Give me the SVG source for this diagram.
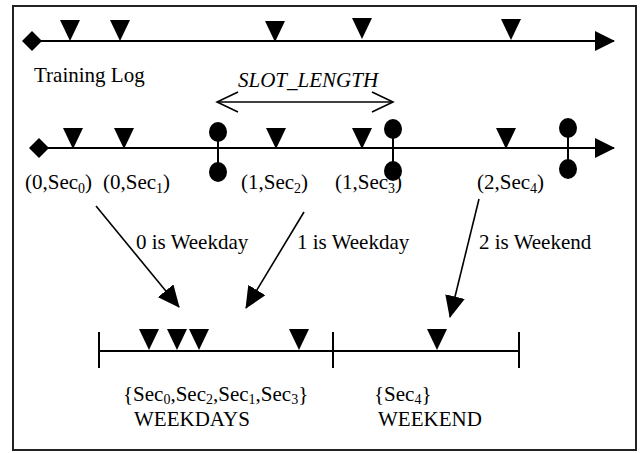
<svg xmlns="http://www.w3.org/2000/svg" width="644" height="453" viewBox="0 0 644 453">
<defs>
<style>
text{font-family:"Liberation Serif","Times New Roman",serif;font-size:21px;fill:#000}
.sub{font-size:14px}
.ln{stroke:#000;stroke-width:2;fill:none}
.cn{stroke:#000;stroke-width:1.6;fill:none}
.dot{fill:#000}
</style>
<marker id="ah" viewBox="0 0 22 20" refX="21" refY="10" markerWidth="22" markerHeight="20" orient="auto" markerUnits="userSpaceOnUse">
<path d="M0,0 L22,10 L0,20 z" fill="#000"/>
</marker>
<marker id="ta" viewBox="0 0 20 20" refX="19" refY="10" markerWidth="20" markerHeight="20" orient="auto" markerUnits="userSpaceOnUse">
<path d="M0,0 L20,10 L0,20 z" fill="#000"/>
</marker>
<path id="tr" d="M-10,0 L10,0 L0,21 z"/>
</defs>
<rect x="13" y="6" width="623" height="444" fill="#fff" stroke="#222" stroke-width="2"/>

<g id="training-log">
<line class="ln" x1="32" y1="41" x2="614" y2="41" marker-end="url(#ta)"/>
<path d="M32,31 L42,41 L32,51 L22,41 z" fill="#000"/>
<use href="#tr" x="70" y="20"/>
<use href="#tr" x="120" y="20"/>
<use href="#tr" x="275" y="21"/>
<use href="#tr" x="362" y="18"/>
<use href="#tr" x="511" y="19"/>
<text x="34" y="82">Training Log</text>
</g>

<g id="slot-length">
<text x="238" y="87" font-style="italic">SLOT_LENGTH</text>
<line class="cn" x1="217" y1="102" x2="393" y2="102"/>
<polyline class="cn" points="238,92 217,102 238,112"/>
<polyline class="cn" points="372,92 393,102 372,112"/>
</g>

<g id="slotted-log">
<line class="ln" x1="39" y1="148" x2="614" y2="148" marker-end="url(#ta)"/>
<path d="M39,138 L49,148 L39,158 L29,148 z" fill="#000"/>
<use href="#tr" x="73" y="128"/>
<use href="#tr" x="124" y="128"/>
<use href="#tr" x="276" y="128"/>
<use href="#tr" x="362" y="128"/>
<use href="#tr" x="506" y="128"/>
<line class="ln" x1="218" y1="132" x2="218" y2="172"/>
<ellipse class="dot" cx="218" cy="132" rx="9" ry="10"/>
<ellipse class="dot" cx="218" cy="172" rx="9" ry="10"/>
<line class="ln" x1="393" y1="129" x2="393" y2="171"/>
<ellipse class="dot" cx="393" cy="129" rx="9" ry="10"/>
<ellipse class="dot" cx="393" cy="171" rx="9" ry="10"/>
<line class="ln" x1="568" y1="128" x2="568" y2="169"/>
<ellipse class="dot" cx="568" cy="128" rx="9" ry="10"/>
<ellipse class="dot" cx="568" cy="169" rx="9" ry="10"/>
</g>

<g id="slot-labels">
<text x="25" y="189">(0,Sec<tspan class="sub" dy="4">0</tspan><tspan dy="-4">)</tspan></text>
<text x="103" y="189">(0,Sec<tspan class="sub" dy="4">1</tspan><tspan dy="-4">)</tspan></text>
<text x="241" y="189">(1,Sec<tspan class="sub" dy="4">2</tspan><tspan dy="-4">)</tspan></text>
<text x="335" y="189">(1,Sec<tspan class="sub" dy="4">3</tspan><tspan dy="-4">)</tspan></text>
<text x="477" y="189">(2,Sec<tspan class="sub" dy="4">4</tspan><tspan dy="-4">)</tspan></text>
</g>

<g id="connectors">
<line class="cn" x1="96" y1="206" x2="179" y2="307" marker-end="url(#ah)"/>
<line class="cn" x1="304" y1="212" x2="246" y2="308" marker-end="url(#ah)"/>
<line class="cn" x1="479" y1="199" x2="450" y2="317" marker-end="url(#ah)"/>
</g>

<g id="connector-labels">
<text x="136" y="249">0 is Weekday</text>
<text x="297" y="249">1 is Weekday</text>
<text x="479" y="249">2 is Weekend</text>
</g>

<g id="weekdays">
<line class="ln" x1="99" y1="351" x2="333" y2="351"/>
<line class="ln" x1="99" y1="332" x2="99" y2="368"/>
<use href="#tr" x="149" y="329"/>
<use href="#tr" x="177" y="329"/>
<use href="#tr" x="199" y="329"/>
<use href="#tr" x="299" y="329"/>
<text x="123" y="401">{Sec<tspan class="sub" dy="3">0</tspan><tspan dy="-3">,Sec</tspan><tspan class="sub" dy="3">2</tspan><tspan dy="-3">,Sec</tspan><tspan class="sub" dy="3">1</tspan><tspan dy="-3">,Sec</tspan><tspan class="sub" dy="3">3</tspan><tspan dy="-3">}</tspan></text>
<text x="134" y="426">WEEKDAYS</text>
</g>

<g id="weekend">
<line class="ln" x1="333" y1="351" x2="519" y2="351"/>
<line class="ln" x1="333" y1="332" x2="333" y2="368"/>
<line class="ln" x1="519" y1="332" x2="519" y2="368"/>
<use href="#tr" x="437" y="329"/>
<text x="374" y="401">{Sec<tspan class="sub" dy="3">4</tspan><tspan dy="-3">}</tspan></text>
<text x="378" y="426">WEEKEND</text>
</g>
</svg>
